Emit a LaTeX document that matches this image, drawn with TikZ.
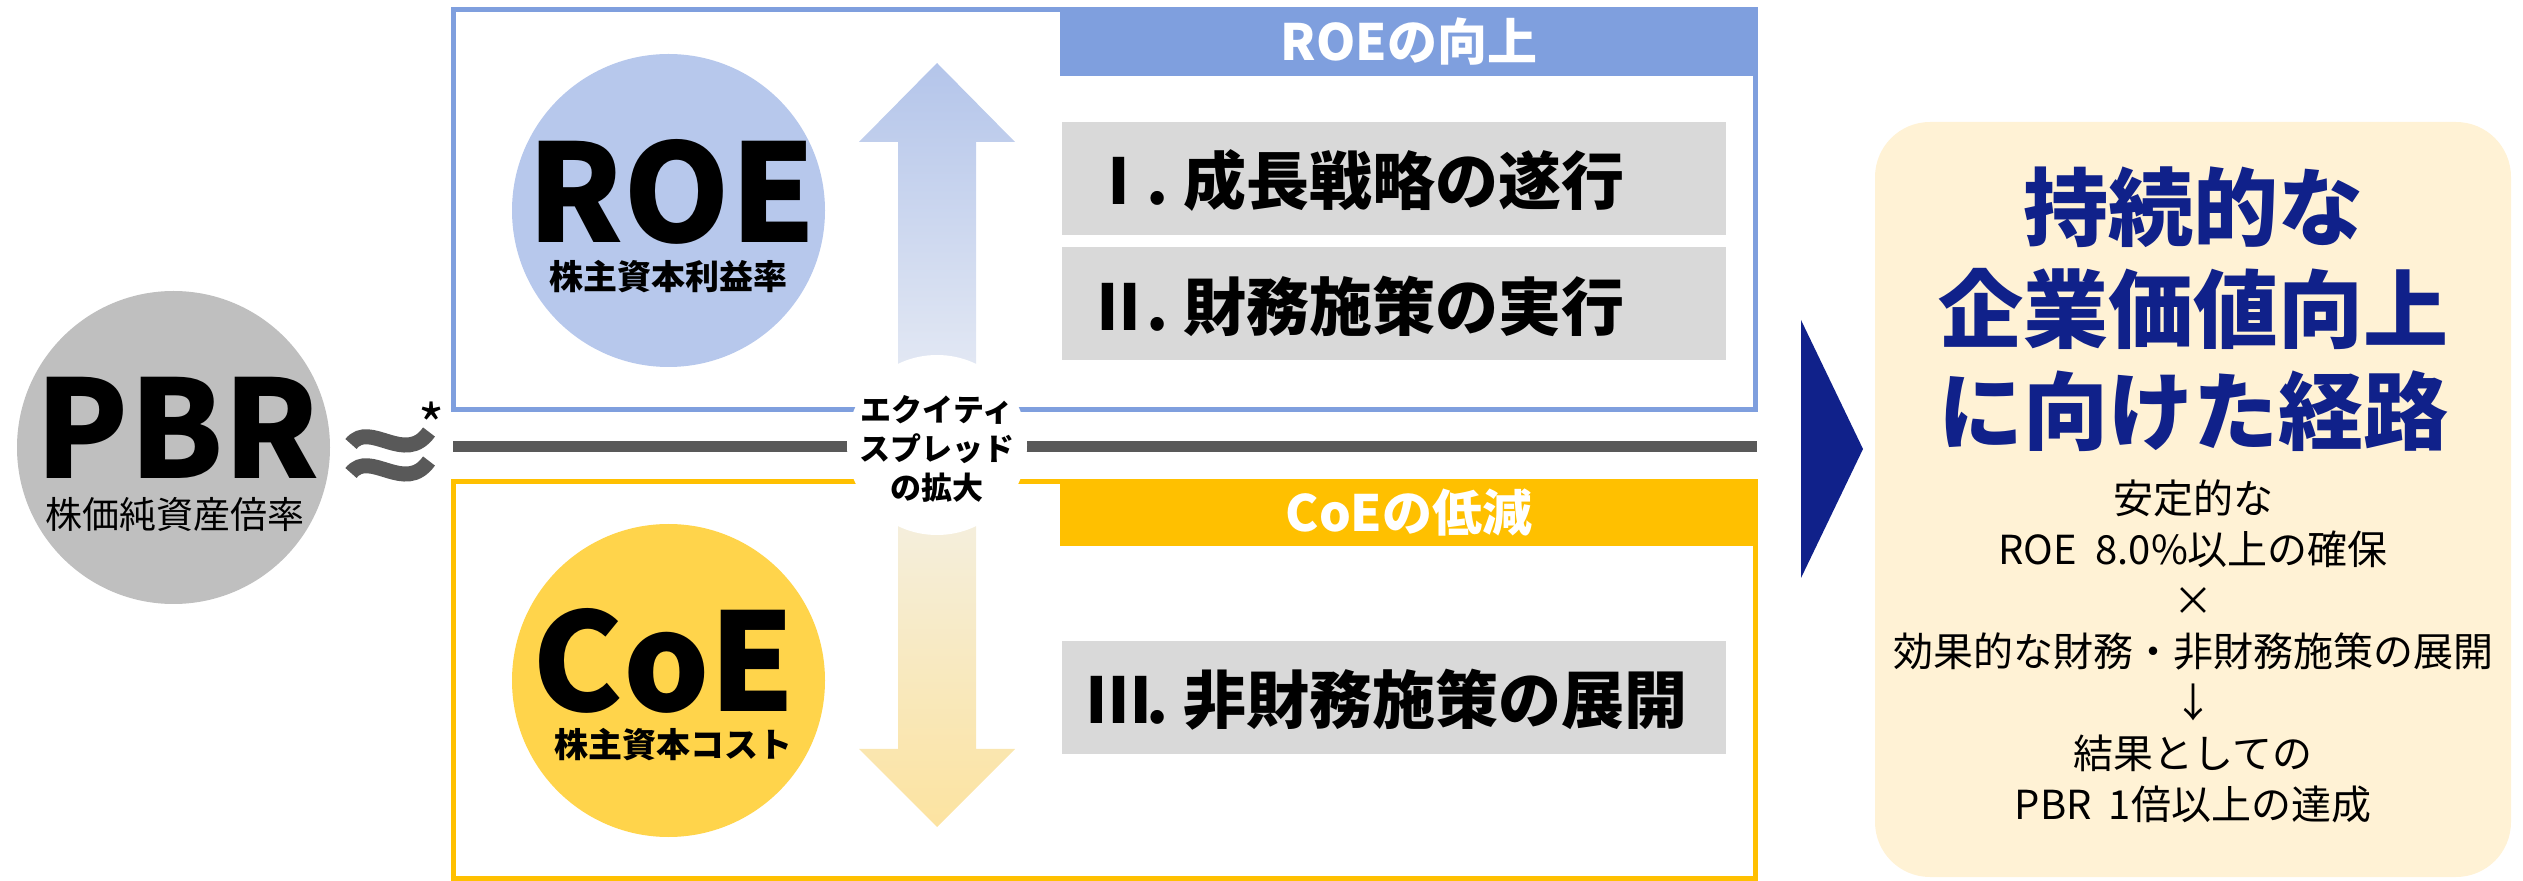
\documentclass[tikz,border=0pt]{standalone}
\usepackage{fontspec}
\setmainfont{Noto Sans CJK JP}
\usetikzlibrary{shapes.geometric}
\definecolor{roeblue}{HTML}{7F9FDE}
\definecolor{roecirc}{HTML}{B7C8EC}
\definecolor{coeyel}{HTML}{FFC000}
\definecolor{coecirc}{HTML}{FFD44B}
\definecolor{boxgray}{HTML}{D9D9D9}
\definecolor{linegray}{HTML}{595959}
\definecolor{pbrgray}{HTML}{BFBFBF}
\definecolor{navy}{HTML}{10218A}
\definecolor{cream}{HTML}{FFF2D5}
\definecolor{uptop}{HTML}{B4C5EA}
\definecolor{upmid}{HTML}{CBD6EE}
\definecolor{upbot}{HTML}{E4E9F4}
\definecolor{dntop}{HTML}{F4EFDF}
\definecolor{dnmid}{HTML}{F8E8B8}
\definecolor{dnbot}{HTML}{FCE3A0}
\newcommand{\numlab}[1]{\makebox[0.85em][c]{#1}\makebox[0.6em][l]{.}}
\tikzset{
  txt/.style={inner sep=0pt, outer sep=0pt},
  hdrtxt/.style={txt, text=white, font=\fontsize{25}{29}\selectfont\bfseries},
  itemtxt/.style={txt, anchor=west, font=\fontsize{31.5}{36}\selectfont\bfseries},
  bigtxt/.style={txt, font=\fontsize{68}{80}\selectfont\bfseries},
  subtxt/.style={txt, font=\fontsize{17}{20}\selectfont\bfseries},
  disc/.style={circle, inner sep=0pt, outer sep=0pt, minimum size=156.5pt},
  itembox/.style={rectangle, fill=boxgray, inner sep=0pt, minimum width=332pt, minimum height=56.5pt},
  wave/.style={linegray, line width=7.5pt},
}
\begin{document}
\begin{tikzpicture}[x=0.5pt,y=-0.5pt]
\useasboundingbox (0,0) rectangle (2523,881);
% ROE frame
\draw[roeblue, line width=2.5pt] (453.5,9.5) rectangle (1755.5,410);
\fill[roeblue] (1060,7) rectangle (1758,76);
\node[hdrtxt] (roehdr) at (1409,42) {ROEの向上};
% CoE frame
\draw[coeyel, line width=2.5pt] (453.5,481.5) rectangle (1755.5,878.5);
\fill[coeyel] (1060,479) rectangle (1758,546);
\node[hdrtxt] (coehdr) at (1409,513) {CoEの低減};
% separator line
\fill[linegray] (453,441) rectangle (1757,452);
% arrows
\shade[top color=uptop, middle color=upmid, bottom color=upbot]
  (898,380) -- (898,142) -- (859,142) -- (937,63) -- (1015,142) -- (976,142) -- (976,380) -- cycle;
\shade[top color=dntop, middle color=dnmid, bottom color=dnbot]
  (898,510) -- (898,749) -- (859,749) -- (937,827) -- (1015,749) -- (976,749) -- (976,510) -- cycle;
% spread label
\node[circle, fill=white, inner sep=0pt, minimum size=90pt] (spreadbg) at (937,445) {};
\node[txt, align=center, font=\fontsize{15.5}{19.5}\selectfont\bfseries] (spread) at (937,449) {エクイティ\\スプレッド\\の拡大};
% ROE disc
\node[disc, fill=roecirc] (roedisc) at (668.5,210.5) {};
\node[bigtxt] (roe) at (672,192) {ROE};
\node[subtxt] (roesub) at (668,277) {株主資本利益率};
% CoE disc
\node[disc, fill=coecirc] (coedisc) at (668.5,680.5) {};
\node[bigtxt] (coe) at (664,661) {CoE};
\node[subtxt] (coesub) at (673,745) {株主資本コスト};
% items
\node[itembox] (b1) at (1394,178.5) {};
\node[itemtxt] (t1) at ([xshift=15.5pt,yshift=-1pt]b1.west) {\numlab{Ⅰ}成長戦略の遂行};
\node[itembox] (b2) at (1394,304) {};
\node[itemtxt] (t2) at ([xshift=15.5pt,yshift=-1pt]b2.west) {\numlab{Ⅱ}財務施策の実行};
\node[itembox] (b3) at (1394,697.5) {};
\node[itemtxt] (t3) at ([xshift=15.5pt,yshift=-1pt]b3.west) {\numlab{Ⅲ}非財務施策の展開};
% PBR
\node[disc, fill=pbrgray] (pbrdisc) at (173.5,447.5) {};
\node[bigtxt] (pbr) at (178,428) {PBR};
\node[txt, font=\fontsize{18.5}{22}\selectfont] (pbrsub) at (175,514) {株価純資産倍率};
% approx sign
\draw[wave] (351,444) .. controls (370,420) and (405,466) .. (429,432);
\draw[wave] (351,473) .. controls (370,449) and (405,495) .. (429,461);
\node[txt, font=\fontsize{28}{32}\selectfont] (star) at (432,424) {*};
% result
\fill[navy] (1801,320) -- (1863,449) -- (1801,578) -- cycle;
\fill[cream, rounded corners=27.5pt] (1875,122) rectangle (2511,877);
\node[txt, align=center, text=navy, font=\fontsize{42.5}{51}\selectfont\bfseries] (title) at (2193,309) {持続的な\\企業価値向上\\に向けた経路};
\node[txt, align=center, font=\fontsize{20}{25.5}\selectfont] (detail) at (2193,651) {安定的な\\ROE\hspace{0.25em} 8.0\%以上の確保\\×\\効果的な財務・非財務施策の展開\\↓\\結果としての\\PBR\hspace{0.2em} 1倍以上の達成};
\end{tikzpicture}
\end{document}
